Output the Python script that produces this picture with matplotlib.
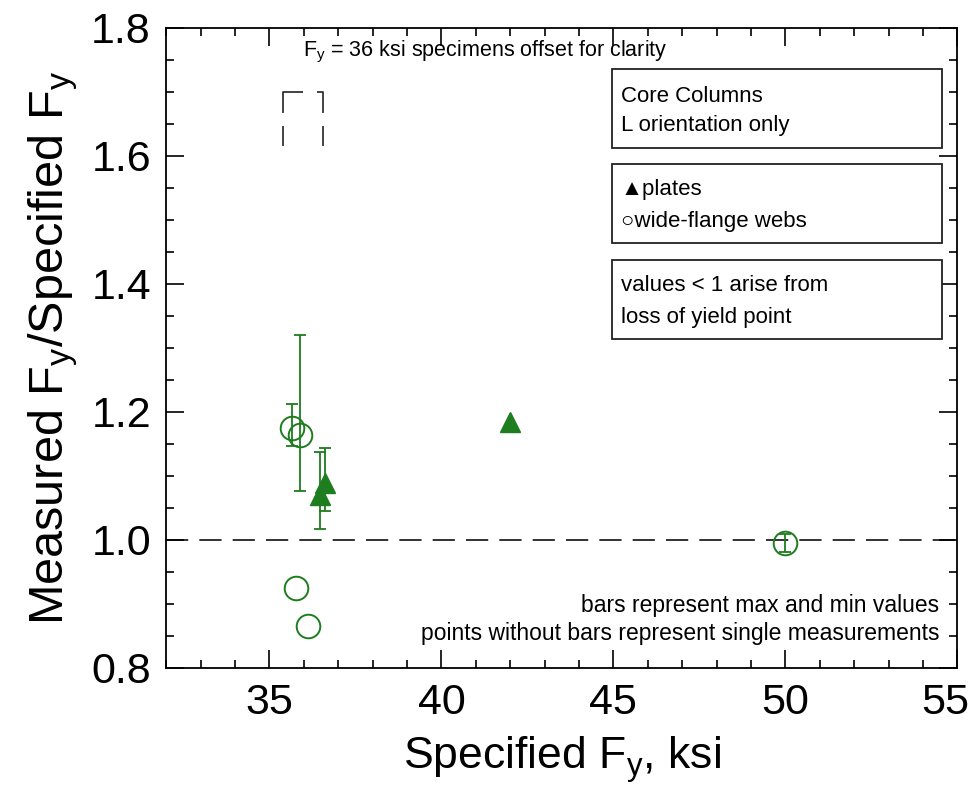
import matplotlib
matplotlib.use('Agg')
import matplotlib.pyplot as plt
from matplotlib.ticker import MultipleLocator, FormatStrFormatter, FuncFormatter
from matplotlib.patches import Rectangle

plt.rcParams['font.family'] = ['Liberation Sans', 'DejaVu Sans']
plt.rcParams['mathtext.default'] = 'regular'
plt.rcParams['lines.scale_dashes'] = False

# wide-flange webs (open circles)
web_fy = [35.65, 35.88, 35.77, 36.12, 50.0]
web_ratio = [1.175, 1.164, 0.925, 0.866, 0.995]
web_min = [1.147, 1.077, None, None, 0.981]
web_max = [1.212, 1.320, None, None, 1.009]

# plates (filled triangles)
plate_fy = [36.46, 36.61, 42.0]
plate_ratio = [1.070, 1.089, 1.184]
plate_min = [1.017, 1.045, None]
plate_max = [1.137, 1.144, None]

x_lo, x_hi = 32, 55

green = '#1e7d1e'
ink = '#222222'

fig = plt.figure(figsize=(9.72, 7.96), dpi=100)
ax = fig.add_axes([0.171, 0.161, 0.814, 0.804])


def draw_bars(ax, xs, ys, lo, hi):
    for x, y, a, b in zip(xs, ys, lo, hi):
        if a is None:
            continue
        ax.errorbar([x], [y], yerr=[[y - a], [b - y]], fmt='none',
                    ecolor=green, elinewidth=1.3, capsize=4.5, capthick=1.3, zorder=2)


draw_bars(ax, web_fy, web_ratio, web_min, web_max)
draw_bars(ax, plate_fy, plate_ratio, plate_min, plate_max)

ax.plot(web_fy, web_ratio, linestyle='none', marker='o', markersize=17,
        markerfacecolor='none', markeredgecolor=green, markeredgewidth=1.4, zorder=3)
ax.plot(plate_fy, plate_ratio, linestyle='none', marker='^', markersize=15,
        color=green, zorder=3)

# reference line at 1.0
ax.axhline(1.0, color=ink, linewidth=1.3, dashes=(16, 8), zorder=1)

# bracket marking the offset 36 ksi specimens
ax.plot([35.39, 35.39, 36.0], [1.615, 1.70, 1.70], color=ink, linewidth=1.2,
        dashes=(14.4, 9.4, 29.5, 40))
ax.plot([36.55, 36.55, 36.2], [1.615, 1.70, 1.70], color=ink, linewidth=1.2,
        dashes=(14.4, 9.4, 19.4, 40))

ax.set_xlim(x_lo, x_hi)
ax.set_ylim(0.8, 1.8)
ax.xaxis.set_major_locator(MultipleLocator(5))
ax.xaxis.set_minor_locator(MultipleLocator(1))
# the last x label is drawn separately, nudged left so it stays on the canvas
ax.xaxis.set_major_formatter(FuncFormatter(lambda v, p: '' if v >= x_hi else f'{v:.0f}'))
ax.yaxis.set_major_locator(MultipleLocator(0.2))
ax.yaxis.set_minor_locator(MultipleLocator(0.05))
ax.yaxis.set_major_formatter(FormatStrFormatter('%.1f'))
ax.tick_params(which='both', direction='in', top=True, right=True, width=1.2)
ax.tick_params(which='major', length=13, labelsize=31, pad=11)
ax.tick_params(which='minor', length=6)
for s in ax.spines.values():
    s.set_linewidth(1.3)

ax.annotate(f'{x_hi}', xy=(x_hi, 0), xycoords=('data', 'axes fraction'),
            xytext=(-8.5, -11), textcoords='offset points', ha='center', va='top',
            fontsize=31, annotation_clip=False)

ax.set_xlabel('Specified F$_y$, ksi', fontsize=32, labelpad=8)
ax.set_ylabel('Measured F$_y$/Specified F$_y$', fontsize=35, labelpad=8)

ax.text(0.173, 0.9625, 'F$_y$ = 36 ksi specimens offset for clarity', fontsize=15.5,
        ha='left', va='center', transform=ax.transAxes)

# annotation boxes on the right
box_bottoms = [0.8125, 0.664, 0.514]
box_lines = [('Core Columns', 'L orientation only'),
             ('\u25b2plates', '\u25cbwide-flange webs'),
             ('values < 1 arise from', 'loss of yield point')]
line_y = [(0.892, 0.848), (0.747, 0.697), (0.598, 0.548)]
for b, lines, ys in zip(box_bottoms, box_lines, line_y):
    ax.add_patch(Rectangle((0.563, b), 0.417, 0.1235, transform=ax.transAxes,
                           facecolor='white', edgecolor=ink, linewidth=1.3, zorder=4))
    for t, y in zip(lines, ys):
        ax.text(0.5745, y, t, fontsize=16, ha='left', va='center',
                transform=ax.transAxes, zorder=5)

ax.text(0.977, 0.098, 'bars represent max and min values', fontsize=16.5,
        ha='right', va='center', transform=ax.transAxes)
ax.text(0.977, 0.053, 'points without bars represent single measurements', fontsize=16.5,
        ha='right', va='center', transform=ax.transAxes)

fig.savefig('out.png', dpi=100)
